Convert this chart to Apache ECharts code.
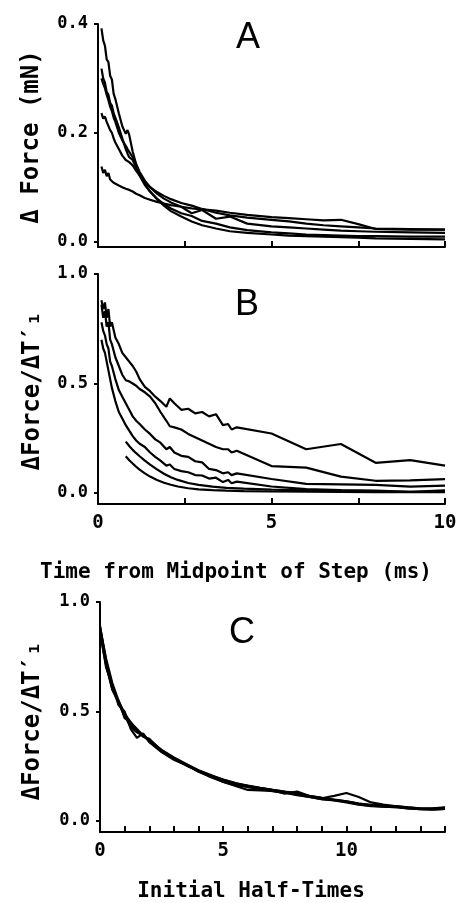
<!DOCTYPE html>
<html>
<head>
<meta charset="utf-8">
<script src="https://cdn.jsdelivr.net/npm/echarts@6/dist/echarts.min.js"></script>
<style>
html,body{margin:0;padding:0;background:#fff;}
#chart{width:457px;height:903px;}
</style>
</head>
<body>
<div id="chart"></div>
<script>
// ---------- Panel A: time (ms) and force (mN) ----------
const timeA = [0.1,0.15,0.2,0.25,0.3,0.35,0.4,0.45,0.5,0.6,0.7,0.8,0.85,0.9,1.0,1.1,1.2,1.35,1.5,1.7,1.9,2.1,2.4,2.7,3.0,3.4,3.8,4.3,5.0,5.5,6.0,6.5,7.0,7.5,8.0,9.0,10.0];
const forceA1 = [0.392,0.37,0.36,0.335,0.33,0.305,0.298,0.272,0.262,0.236,0.212,0.198,0.205,0.196,0.165,0.142,0.124,0.106,0.092,0.078,0.066,0.056,0.046,0.037,0.030,0.024,0.019,0.016,0.013,0.011,0.010,0.009,0.008,0.007,0.006,0.005,0.004];
const forceA2 = [0.318,0.30,0.292,0.275,0.27,0.255,0.25,0.236,0.228,0.21,0.19,0.17,0.162,0.155,0.15,0.136,0.121,0.104,0.092,0.079,0.069,0.061,0.052,0.047,0.038,0.033,0.026,0.021,0.017,0.015,0.013,0.012,0.011,0.010,0.010,0.009,0.009];
const forceA3 = [0.30,0.29,0.282,0.27,0.26,0.248,0.24,0.228,0.22,0.20,0.186,0.176,0.17,0.165,0.155,0.142,0.128,0.112,0.10,0.088,0.079,0.072,0.064,0.052,0.058,0.042,0.046,0.033,0.028,0.026,0.024,0.022,0.020,0.019,0.018,0.017,0.016];
const forceA4 = [0.236,0.226,0.23,0.22,0.218,0.205,0.20,0.19,0.182,0.17,0.158,0.15,0.148,0.146,0.14,0.13,0.122,0.11,0.10,0.091,0.084,0.078,0.071,0.066,0.06,0.053,0.048,0.044,0.04,0.037,0.033,0.03,0.028,0.026,0.024,0.023,0.022];
const forceA5 = [0.138,0.126,0.132,0.12,0.126,0.114,0.116,0.108,0.108,0.103,0.10,0.097,0.096,0.095,0.092,0.088,0.085,0.08,0.077,0.073,0.07,0.067,0.064,0.061,0.059,0.057,0.053,0.049,0.045,0.043,0.041,0.039,0.040,0.032,0.023,0.022,0.022];

// ---------- Panel B: time (ms) and normalised force ----------
const timeB = [0.1,0.15,0.2,0.25,0.3,0.35,0.4,0.5,0.6,0.7,0.8,0.9,1.0,1.1,1.2,1.35,1.5,1.65,1.8,1.97,2.07,2.2,2.4,2.6,2.8,3.0,3.2,3.4,3.6,3.75,3.85,4.0,5.0,6.0,7.0,8.0,9.0,10.0];
const normB1 = [0.88,0.84,0.87,0.80,0.84,0.76,0.78,0.71,0.68,0.64,0.62,0.60,0.58,0.555,0.52,0.485,0.465,0.44,0.42,0.394,0.432,0.41,0.38,0.385,0.364,0.37,0.35,0.36,0.31,0.315,0.29,0.30,0.272,0.20,0.224,0.138,0.15,0.125];
const normB2 = [0.86,0.80,0.83,0.76,0.78,0.70,0.68,0.62,0.58,0.54,0.515,0.51,0.50,0.49,0.475,0.46,0.44,0.41,0.37,0.33,0.305,0.30,0.29,0.27,0.255,0.24,0.225,0.21,0.20,0.20,0.185,0.193,0.123,0.116,0.075,0.056,0.058,0.064];
const normB3 = [0.78,0.74,0.72,0.68,0.66,0.60,0.58,0.52,0.47,0.44,0.41,0.38,0.35,0.33,0.315,0.29,0.27,0.245,0.23,0.20,0.21,0.185,0.17,0.165,0.145,0.14,0.11,0.105,0.09,0.095,0.082,0.09,0.064,0.042,0.04,0.037,0.029,0.034];
const normB4 = [0.70,0.66,0.64,0.60,0.56,0.52,0.48,0.42,0.37,0.34,0.31,0.285,0.26,0.24,0.225,0.21,0.185,0.165,0.148,0.125,0.13,0.11,0.10,0.095,0.082,0.08,0.066,0.07,0.05,0.06,0.045,0.052,0.03,0.018,0.013,0.011,0.006,0.012];
const timeB5 = [0.8,0.9,1.0,1.1,1.2,1.35,1.5,1.7,1.9,2.1,2.3,2.6,2.9,3.3,3.7,4.2,5.0,6.0,7.0,8.0,9.0,10.0];
const normB5 = [0.235,0.215,0.197,0.182,0.168,0.148,0.13,0.108,0.088,0.072,0.06,0.046,0.037,0.029,0.024,0.02,0.016,0.012,0.01,0.008,0.006,0.006];
const normB6 = [0.168,0.15,0.135,0.12,0.107,0.09,0.075,0.06,0.047,0.038,0.03,0.022,0.017,0.013,0.011,0.009,0.007,0.006,0.005,0.004,0.004,0.004];

// ---------- Panel C: initial half-times and normalised force ----------
const halfTimes = [0,0.25,0.5,0.75,1,1.25,1.5,1.75,2,2.5,3,3.5,4,4.5,5,5.5,6,6.5,7,7.5,8,8.5,9,9.5,10,10.5,11,11.5,12,12.5,13,13.5,14];
const normC1 = [0.89,0.72,0.60,0.55,0.49,0.45,0.42,0.39,0.37,0.325,0.29,0.26,0.232,0.21,0.188,0.172,0.162,0.152,0.143,0.135,0.128,0.115,0.106,0.098,0.09,0.08,0.072,0.07,0.068,0.062,0.058,0.058,0.062];
const normC2 = [0.87,0.70,0.62,0.53,0.50,0.42,0.38,0.40,0.36,0.315,0.28,0.255,0.226,0.20,0.18,0.165,0.155,0.145,0.137,0.13,0.12,0.11,0.10,0.094,0.085,0.075,0.068,0.066,0.063,0.058,0.054,0.053,0.056];
const normC3 = [0.88,0.74,0.63,0.55,0.47,0.45,0.41,0.385,0.375,0.32,0.287,0.254,0.23,0.206,0.186,0.17,0.16,0.15,0.142,0.133,0.124,0.113,0.104,0.115,0.128,0.11,0.085,0.075,0.067,0.062,0.057,0.056,0.06];
const normC4 = [0.86,0.71,0.60,0.54,0.48,0.44,0.415,0.39,0.365,0.318,0.283,0.258,0.225,0.203,0.178,0.16,0.142,0.14,0.138,0.13,0.118,0.11,0.10,0.095,0.088,0.076,0.07,0.066,0.064,0.058,0.054,0.052,0.055];
const normC5 = [0.89,0.73,0.61,0.545,0.48,0.43,0.405,0.39,0.37,0.322,0.286,0.257,0.229,0.207,0.19,0.173,0.16,0.15,0.14,0.125,0.135,0.114,0.106,0.097,0.09,0.08,0.074,0.07,0.066,0.06,0.056,0.057,0.06];

// ---------- tick values ----------
const yTicksA = [0, 0.2, 0.4];
const yTicksBC = [0, 0.5, 1.0];
const xTicksAB = [0, 2.5, 5, 7.5, 10];
const xLabelsB = [0, 5, 10];
const xTicksC = [0,1,2,3,4,5,6,7,8,9,10,11,12,13,14];
const xLabelsC = [0, 5, 10];

const MONO = '"DejaVu Sans Mono", monospace';
const zip = (xs, ys) => ys.map((y, i) => [xs[i], y]);

function mkSeries(xs, ys, idx) {
  return {
    type: 'line', xAxisIndex: idx, yAxisIndex: idx,
    data: zip(xs, ys), showSymbol: false, symbol: 'none',
    lineStyle: { color: '#000', width: 2.2 }, silent: true, animation: false
  };
}

function xAxis(idx, max, ticks, labels) {
  return {
    type: 'value', gridIndex: idx, min: 0, max: max,
    axisLine: { show: true, onZero: false, lineStyle: { color: '#000', width: 2 } },
    axisTick: { show: true, inside: true, length: 6, customValues: ticks, lineStyle: { color: '#000', width: 2 } },
    axisLabel: labels ? { show: true, customValues: labels, color: '#000', margin: 10,
      fontFamily: MONO, fontWeight: 'bold', fontSize: 19 } : { show: false },
    splitLine: { show: false }
  };
}
function yAxis(idx, min, max, ticks) {
  return {
    type: 'value', gridIndex: idx, min: min, max: max,
    axisLine: { show: true, onZero: false, lineStyle: { color: '#000', width: 2 } },
    axisTick: { show: true, inside: false, length: 4, customValues: ticks, lineStyle: { color: '#000', width: 2 } },
    axisLabel: { show: true, customValues: ticks, color: '#000', margin: 10,
      fontFamily: MONO, fontWeight: 'bold', fontSize: 17,
      formatter: v => v.toFixed(1) },
    splitLine: { show: false }
  };
}
function txt(x, y, text, font, rot) {
  return { type: 'text', x: x, y: y, rotation: rot || 0, silent: true,
    style: { text: text, font: font, fill: '#000', align: 'center', verticalAlign: 'middle' } };
}

const chart = echarts.init(document.getElementById('chart'), null, { renderer: 'canvas' });
chart.setOption({
  backgroundColor: '#fff',
  animation: false,
  grid: [
    { left: 98, top: 24, width: 347, height: 223, containLabel: false, outerBoundsMode: 'none' },
    { left: 98, top: 274, width: 347, height: 230, containLabel: false, outerBoundsMode: 'none' },
    { left: 100, top: 602, width: 345, height: 230, containLabel: false, outerBoundsMode: 'none' }
  ],
  xAxis: [
    xAxis(0, 10, xTicksAB, null),
    xAxis(1, 10, xTicksAB, xLabelsB),
    xAxis(2, 14, xTicksC, xLabelsC)
  ],
  yAxis: [
    yAxis(0, -0.01, 0.4, yTicksA),
    yAxis(1, -0.05, 1.0, yTicksBC),
    yAxis(2, -0.05, 1.0, yTicksBC)
  ],
  series: [
    mkSeries(timeA, forceA1, 0), mkSeries(timeA, forceA2, 0), mkSeries(timeA, forceA3, 0),
    mkSeries(timeA, forceA4, 0), mkSeries(timeA, forceA5, 0),
    mkSeries(timeB, normB1, 1), mkSeries(timeB, normB2, 1), mkSeries(timeB, normB3, 1),
    mkSeries(timeB, normB4, 1), mkSeries(timeB5, normB5, 1), mkSeries(timeB5, normB6, 1),
    mkSeries(halfTimes, normC1, 2), mkSeries(halfTimes, normC2, 2), mkSeries(halfTimes, normC3, 2),
    mkSeries(halfTimes, normC4, 2), mkSeries(halfTimes, normC5, 2)
  ],
  graphic: [
    txt(248, 38, 'A', '36px "Liberation Sans"'),
    txt(247, 305, 'B', '36px "Liberation Sans"'),
    txt(242, 633, 'C', '36px "Liberation Sans"'),
    txt(32, 137, 'Δ Force (mN)', 'bold 24px ' + MONO, Math.PI / 2),
    txt(33, 391, 'ΔForce/ΔT′₁', 'bold 24px ' + MONO, Math.PI / 2),
    txt(33, 721, 'ΔForce/ΔT′₁', 'bold 24px ' + MONO, Math.PI / 2),
    txt(236, 573, 'Time from Midpoint of Step (ms)', 'bold 21px ' + MONO),
    txt(251, 892, 'Initial Half-Times', 'bold 21px ' + MONO)
  ]
});
</script>
</body>
</html>
